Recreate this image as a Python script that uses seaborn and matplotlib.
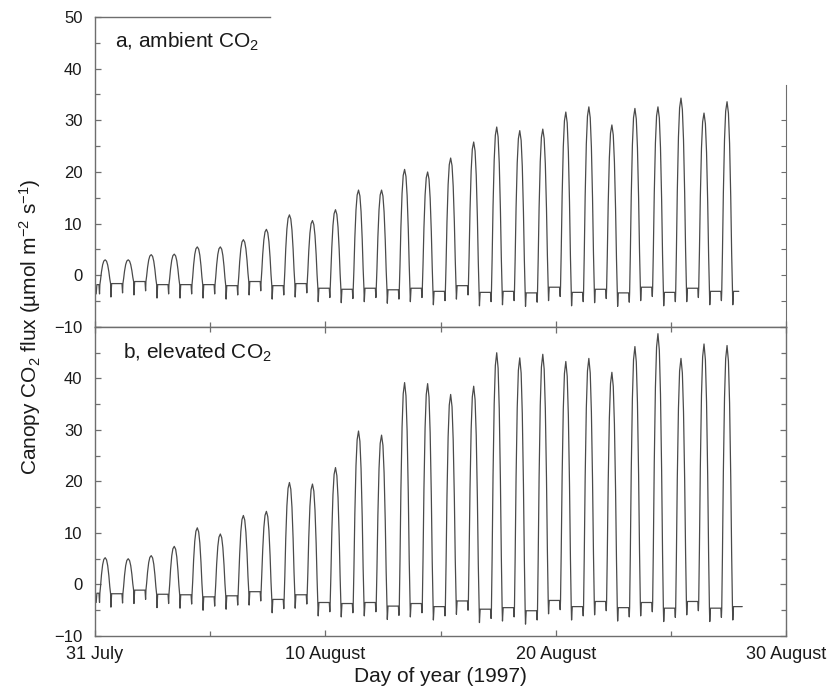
import numpy as np
import pandas as pd
import matplotlib
matplotlib.use("Agg")
import matplotlib.pyplot as plt
import seaborn as sns
from matplotlib.ticker import MultipleLocator

# midday peak flux for each day starting 31 July (umol m-2 s-1)
peak_ambient = [3.0, 3.0, 4.0, 4.1, 5.5, 5.5, 6.9, 8.9, 11.7, 10.6, 12.7, 16.5, 16.5, 20.5,
                20.0, 22.7, 25.8, 28.7, 28.0, 28.3, 31.6, 32.6, 29.1, 32.3, 32.6, 34.3, 31.4, 33.6]
peak_elevated = [5.2, 5.0, 5.6, 7.4, 11.0, 9.8, 13.4, 14.2, 19.8, 19.5, 22.7, 29.8, 29.0, 39.2,
                 39.0, 36.9, 38.5, 45.0, 44.0, 44.7, 43.3, 43.9, 41.2, 46.2, 48.7, 43.9, 46.7, 46.4]

# night-time level following each day's hump
night_ambient = [-1.6, -1.2, -1.8, -1.8, -1.8, -2.0, -1.2, -2.0, -1.6, -2.5, -2.7, -2.5, -2.8, -2.5,
                 -3.1, -2.0, -3.3, -3.1, -3.4, -2.3, -3.3, -2.7, -3.4, -2.3, -3.3, -2.5, -3.1, -3.1]
night_elevated = [-1.8, -1.1, -1.9, -2.0, -2.4, -2.2, -1.4, -2.9, -2.0, -3.5, -3.7, -3.5, -4.2, -3.7,
                  -4.3, -3.2, -4.8, -4.5, -5.1, -3.1, -4.3, -3.3, -4.5, -3.5, -4.6, -3.3, -4.6, -4.3]
first_night = {"ambient": -1.8, "elevated": -1.7}
last_day = {"ambient": 27.95, "elevated": 28.1}

# shape of one daytime hump: fraction of the day vs fraction of the way from night level to peak
hump_t = [0.21, 0.24, 0.28, 0.33, 0.38, 0.44, 0.50, 0.55, 0.60, 0.64, 0.675]
hump_f = [0.0, 0.20, 0.52, 0.80, 0.95, 1.00, 0.94, 0.78, 0.50, 0.20, 0.0]
dip_morning = -1.8
dip_evening = -2.6

date_ticks = [0, 10, 20, 30]
date_labels = ["31 July", "10 August", "20 August", "30 August"]


def build_series(peaks, nights, start_level, end_day):
    t, v = [0.0, 0.05, 0.08], [start_level, start_level + dip_morning, start_level]
    prev = start_level
    for d, (pk, nt) in enumerate(zip(peaks, nights)):
        t += [d + 0.17, d + 0.195]
        v += [prev, prev + dip_morning]
        for ht, hf in zip(hump_t, hump_f):
            base = prev if ht < 0.44 else nt
            t.append(d + ht)
            v.append(base + hf * (pk - base))
        t += [d + 0.69, d + 0.72]
        v += [nt + dip_evening, nt]
        prev = nt
    t.append(end_day)
    v.append(prev)
    return pd.DataFrame({"day": t, "flux": v})


df_a = build_series(peak_ambient, night_ambient, first_night["ambient"], last_day["ambient"])
df_b = build_series(peak_elevated, night_elevated, first_night["elevated"], last_day["elevated"])

sns.set_style("ticks")
plt.rcParams["font.family"] = ["Liberation Sans", "DejaVu Sans"]
plt.rcParams["mathtext.default"] = "regular"

spine_col = "#6e6e6e"
text_col = "#1a1a1a"
line_col = "#4a4a4a"

fig = plt.figure(figsize=(8.3, 6.9), dpi=100)
ax1 = fig.add_axes([0.1145, 0.5261, 0.8325, 0.4493])
ax2 = fig.add_axes([0.1145, 0.0783, 0.8325, 0.4478])

sns.lineplot(data=df_a, x="day", y="flux", ax=ax1, color=line_col, lw=0.9,
             estimator=None, sort=False)
sns.lineplot(data=df_b, x="day", y="flux", ax=ax2, color=line_col, lw=0.9,
             estimator=None, sort=False)

for ax in (ax1, ax2):
    ax.set_xlim(0, 30)
    ax.set_ylim(-10, 50)
    ax.set_xlabel("")
    ax.set_ylabel("")
    ax.yaxis.set_major_locator(MultipleLocator(10))
    ax.yaxis.set_minor_locator(MultipleLocator(5))
    ax.set_xticks(date_ticks)
    ax.xaxis.set_minor_locator(MultipleLocator(5))
    for s in ax.spines.values():
        s.set_color(spine_col)
        s.set_linewidth(1.0)
    ax.tick_params(which="both", direction="in", color=spine_col, width=0.9)
    ax.tick_params(which="major", length=4.5)
    ax.tick_params(which="minor", length=3.5)
    ax.tick_params(axis="y", labelsize=12, labelcolor=text_col, pad=9)

# top panel: partial top and right frame as in the original scan
ax1.spines["top"].set_bounds(0, 7.6)
ax1.spines["right"].set_visible(False)
ax1.tick_params(axis="x", labelbottom=False, top=False)
ax1.tick_params(axis="y", right=False)
ax1r = ax1.twinx()
ax1r.set_ylim(-10, 50)
ax1r.set_yticks(np.arange(-5, 35, 5))
ax1r.tick_params(axis="y", direction="in", length=3.5, color=spine_col, labelright=False)
for side in ("left", "top", "bottom"):
    ax1r.spines[side].set_visible(False)
ax1r.spines["right"].set_color(spine_col)
ax1r.spines["right"].set_bounds(-10, 36.8)

# bottom panel: full frame, 50 left unlabelled
ax2.set_yticks([-10, 0, 10, 20, 30, 40, 50])
ax2.set_yticklabels(["\u221210", "0", "10", "20", "30", "40", ""])
ax2.set_xticklabels(date_labels)
ax2.tick_params(which="both", top=True, right=True)
ax2.tick_params(axis="x", labelsize=13, labelcolor=text_col, pad=7)

ax1.text(0.029, 0.92, "a, ambient CO$_2$", transform=ax1.transAxes, fontsize=15,
         color=text_col, va="center", ha="left")
ax2.text(0.040, 0.915, "b, elevated CO$_2$", transform=ax2.transAxes, fontsize=15,
         color=text_col, va="center", ha="left")

fig.text(0.036, 0.526, "Canopy CO$_2$ flux (\u00b5mol m$^{-2}$ s$^{-1}$)", rotation=90,
         fontsize=15, color=text_col, ha="center", va="center")
fig.text(0.531, 0.019, "Day of year (1997)", fontsize=15, color=text_col,
         ha="center", va="center")

fig.savefig("out.png", dpi=100)
